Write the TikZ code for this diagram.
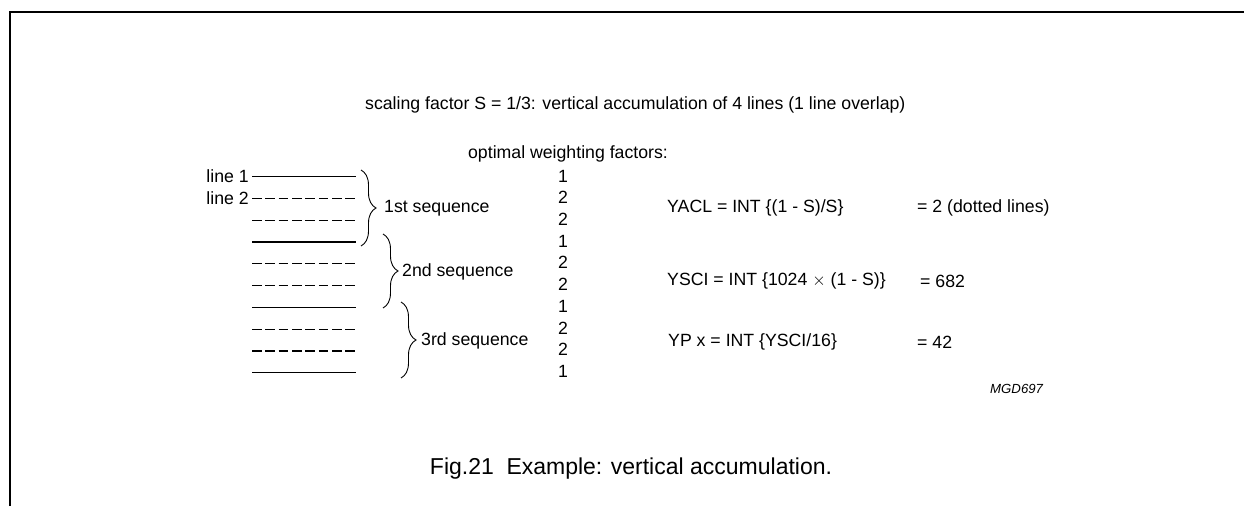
\documentclass[tikz,border=0pt]{standalone}
\usepackage{fontspec}
\setmainfont{Liberation Sans}
\usetikzlibrary{decorations.pathreplacing,positioning}

\tikzset{
  txt/.style={inner sep=0pt, font=\fontsize{17.7}{21}\selectfont},
  scanline/.style={line width=1.2pt},
  skipline/.style={line width=1.2pt, dash pattern=on 9.5pt off 3.85pt},
  seqbrace/.style={decorate, line width=0.9pt,
    decoration={brace, amplitude=15pt, aspect=0.5}},
}

\begin{document}
\begin{tikzpicture}[x=1pt,y=-1pt]
  \useasboundingbox (0,0) rectangle (1244,506);
  % frame
  \draw[line width=1.5pt] (10,506) -- (10,12) -- (1244,12);

  \node[txt, anchor=west] (title) at (365,105)
    {scaling factor S = 1/3: vertical accumulation of 4 lines (1 line overlap)};
  \node[txt] (optw) at (568,154) {optimal weighting factors:};

  % source lines
  \foreach \kind [count=\i from 0] in
      {scanline,skipline,skipline,scanline,skipline,skipline,scanline,skipline,skipline,scanline} {
    \coordinate (l\i w) at (252,176.5+21.8*\i);
    \coordinate (l\i e) at (356,176.5+21.8*\i);
    \draw[\kind] (l\i w) -- (l\i e);
  }
  \node[txt, left=3pt of l0w] (lineA) {line 1};
  \node[txt, left=3pt of l1w] (lineB) {line 2};

  % weights
  \foreach \wt [count=\i from 0] in {1,2,2,1,2,2,1,2,2,1}
    \node[txt] (w\i) at (563,176+21.7*\i) {\wt};

  % sequences
  \coordinate (s1t) at (361,170);
  \coordinate (s1b) at (361,246);
  \coordinate (s2t) at (383,234);
  \coordinate (s2b) at (383,308);
  \coordinate (s3t) at (401,302);
  \coordinate (s3b) at (401,378);
  \draw[seqbrace] (s1t) -- (s1b);
  \draw[seqbrace] (s2t) -- (s2b);
  \draw[seqbrace] (s3t) -- (s3b);
  \node[txt, anchor=west] (seqA) at (384,208) {1st sequence};
  \node[txt, anchor=west] (seqB) at (402,272) {2nd sequence};
  \node[txt, anchor=west] (seqC) at (421,341) {3rd sequence};

  % formulas
  \node[txt, anchor=west] (yacl) at (667,208) {YACL = INT \{(1 - S)/S\}};
  \node[txt, anchor=west] (yacv) at (917,208) {= 2 (dotted lines)};
  \node[txt, anchor=west] (ysci) at (667,281) {YSCI = INT \{1024 $\times$ (1 - S)\}};
  \node[txt, anchor=west] (yscv) at (920,281) {= 682};
  \node[txt, anchor=west] (ypx) at (668,342) {YP x = INT \{YSCI/16\}};
  \node[txt, anchor=west] (ypxv) at (917,342) {= 42};

  \node[inner sep=0pt, anchor=west, font=\fontsize{13.2}{15}\itshape] (code) at (990,389) {MGD697};
  \node[inner sep=0pt, font=\fontsize{23}{26}\selectfont] (caption) at (631,469)
    {Fig.21\hspace{0.55em}Example: vertical accumulation.};
\end{tikzpicture}
\end{document}
